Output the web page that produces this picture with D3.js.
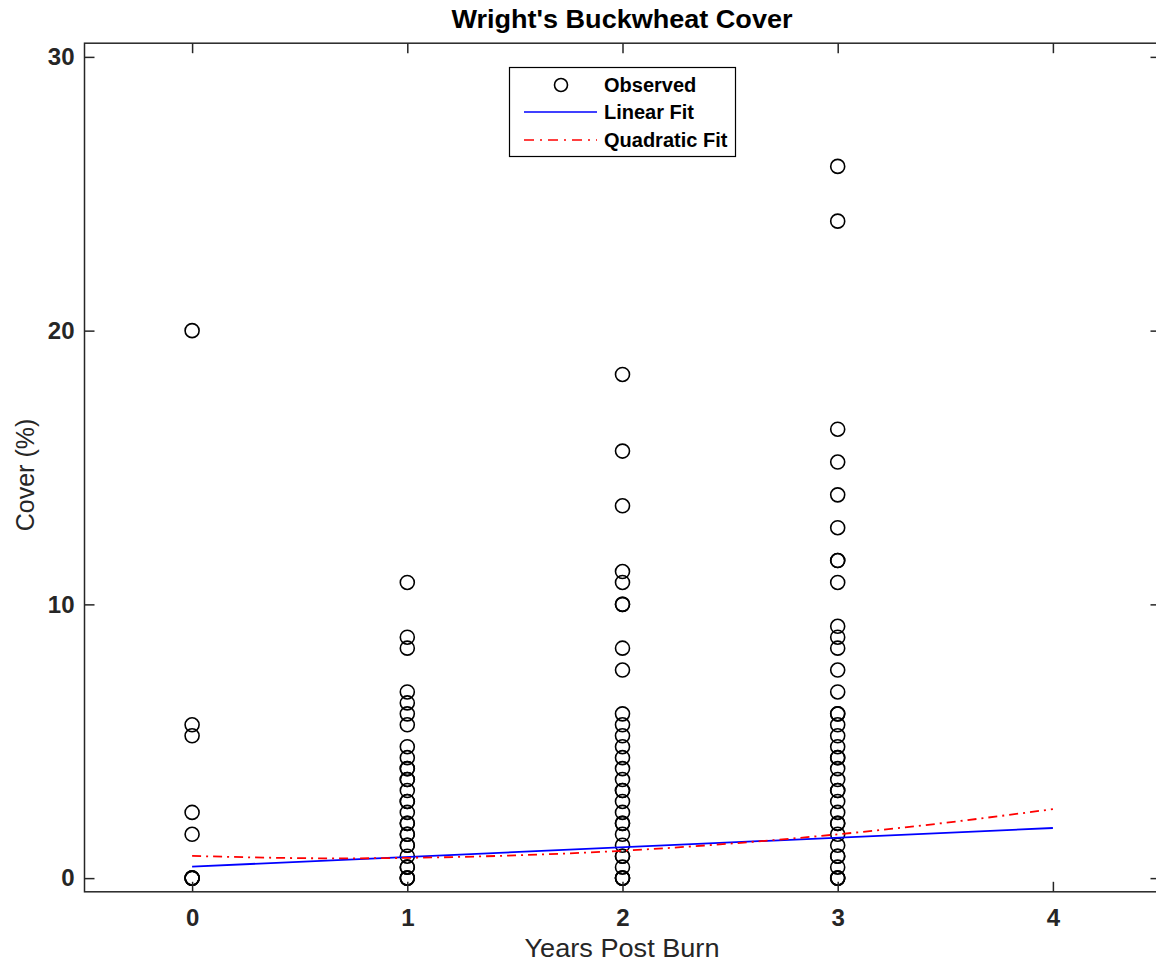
<!DOCTYPE html>
<html>
<head>
<meta charset="utf-8">
<script src="https://cdn.jsdelivr.net/npm/d3@7/dist/d3.min.js"></script>
<style>
  html, body { margin: 0; padding: 0; background: #fff; }
  svg { display: block; }
  text { font-family: "Liberation Sans", Arial, Helvetica, sans-serif; }
</style>
</head>
<body>
<svg id="chart" width="1156" height="968"></svg>
<script>
// ---- data ----
const xTicks = [0, 1, 2, 3, 4];
const yTicks = [0, 10, 20, 30];

const years0 = [0, 0, 0, 0, 0, 0, 0, 0, 0];
const cover0 = [20, 5.6, 5.2, 2.4, 1.6, 0, 0, 0, 0];

const years1 = [1,1,1,1,1,1,1,1,1,1,1,1,1,1,1,1,1,1,1,1,1,1,1,1,1,1,1,1,1];
const cover1 = [10.8, 8.8, 8.4, 6.8, 6.4, 6.0, 5.6, 4.8, 4.4, 4.0, 4.0, 3.6, 3.6, 3.2, 2.8, 2.8, 2.4, 2.0, 2.0, 1.6, 1.6, 1.2, 1.2, 0.8, 0.4, 0.4, 0, 0, 0];

const years2 = [2,2,2,2,2,2,2,2,2,2,2,2,2,2,2,2,2,2,2,2,2,2,2,2,2,2,2,2,2,2];
const cover2 = [18.4, 15.6, 13.6, 11.2, 10.8, 10.0, 10.0, 8.4, 7.6, 6.0, 5.6, 5.2, 4.8, 4.4, 4.0, 3.6, 3.2, 3.2, 2.8, 2.4, 2.0, 2.0, 1.6, 1.2, 0.8, 0.8, 0.4, 0, 0, 0];

const years3 = [3,3,3,3,3,3,3,3,3,3,3,3,3,3,3,3,3,3,3,3,3,3,3,3,3,3,3,3,3,3,3,3,3,3,3,3,3];
const cover3 = [26, 24, 16.4, 15.2, 14.0, 12.8, 11.6, 11.6, 10.8, 9.2, 8.8, 8.4, 7.6, 6.8, 6.0, 6.0, 5.6, 5.2, 4.8, 4.4, 4.4, 4.0, 3.6, 3.2, 3.2, 2.8, 2.4, 2.0, 2.0, 1.6, 1.2, 0.8, 0.8, 0.4, 0, 0, 0];

const linearX = [0, 4];
const linearY = [0.42, 1.83];

const quadX = [0, 0.5, 1, 1.5, 2, 2.5, 3, 3.5, 4];
const quadY = [0.81, 0.73, 0.74, 0.83, 1.00, 1.26, 1.60, 2.02, 2.52];

const legendLabels = ["Observed", "Linear Fit", "Quadratic Fit"];

// ---- drawing ----
const svg = d3.select("#chart");
const axisColor = "#262626";

const x = d3.scaleLinear().domain([-0.5, 4.5]).range([84.5, 1160.5]);
const y = d3.scaleLinear().domain([-0.5, 30.5]).range([891.8, 43.2]);

const L = x.range()[0], R = x.range()[1], T = y.range()[1], B = y.range()[0];

// points
const obs = [];
[[years0, cover0], [years1, cover1], [years2, cover2], [years3, cover3]].forEach(([xs, ys]) => {
  xs.forEach((v, i) => obs.push([v, ys[i]]));
});

svg.append("g").selectAll("circle").data(obs).enter().append("circle")
  .attr("cx", d => x(d[0]))
  .attr("cy", d => y(d[1]))
  .attr("r", 7)
  .attr("fill", "none")
  .attr("stroke", "#000")
  .attr("stroke-width", 1.6);

// fits
const line = d3.line().x(d => x(d[0])).y(d => y(d[1]));
svg.append("path")
  .datum(linearX.map((v, i) => [v, linearY[i]]))
  .attr("d", line)
  .attr("fill", "none").attr("stroke", "#0000ff").attr("stroke-width", 1.8);

svg.append("path")
  .datum(quadX.map((v, i) => [v, quadY[i]]))
  .attr("d", line.curve(d3.curveNatural))
  .attr("fill", "none").attr("stroke", "#ff0000").attr("stroke-width", 1.8)
  .attr("stroke-dasharray", "9,5,2,5");

// axes
const axisB = svg.append("g").attr("transform", `translate(0,${B})`)
  .call(d3.axisBottom(x).tickValues(xTicks).tickSize(-10).tickPadding(17).tickFormat(d3.format("d")));
const axisT = svg.append("g").attr("transform", `translate(0,${T})`)
  .call(d3.axisTop(x).tickValues(xTicks).tickSize(-10).tickFormat(""));
const axisLft = svg.append("g").attr("transform", `translate(${L},0)`)
  .call(d3.axisLeft(y).tickValues(yTicks).tickSize(-10).tickPadding(10).tickFormat(d3.format("d")));
const axisRt = svg.append("g").attr("transform", `translate(${R},0)`)
  .call(d3.axisRight(y).tickValues(yTicks).tickSize(-10).tickFormat(""));

[axisB, axisT, axisLft, axisRt].forEach(g => {
  g.select(".domain").remove();
  g.selectAll(".tick line").attr("stroke", axisColor).attr("stroke-width", 1.5);
  g.selectAll(".tick text").attr("fill", axisColor)
    .style("font-size", "24px").style("font-weight", "bold")
    .style("font-family", '"Liberation Sans", Arial, sans-serif');
});

svg.append("rect")
  .attr("x", L).attr("y", T).attr("width", R - L).attr("height", B - T)
  .attr("fill", "none").attr("stroke", axisColor).attr("stroke-width", 1.5);

// title
svg.append("text")
  .attr("x", 622).attr("y", 28)
  .attr("text-anchor", "middle")
  .attr("textLength", 341).attr("lengthAdjust", "spacingAndGlyphs")
  .style("font-size", "25px").style("font-weight", "bold").attr("fill", "#000")
  .text("Wright's Buckwheat Cover");

// axis labels
svg.append("text")
  .attr("x", 622).attr("y", 957)
  .attr("text-anchor", "middle")
  .attr("textLength", 195).attr("lengthAdjust", "spacingAndGlyphs")
  .style("font-size", "26px").attr("fill", axisColor)
  .text("Years Post Burn");

svg.append("text")
  .attr("transform", "translate(34,475) rotate(-90)")
  .attr("text-anchor", "middle")
  .style("font-size", "25px").attr("fill", axisColor)
  .text("Cover (%)");

// legend
const lg = svg.append("g");
lg.append("rect").attr("x", 509.5).attr("y", 67.5).attr("width", 226).attr("height", 89)
  .attr("fill", "#fff").attr("stroke", "#000").attr("stroke-width", 1.2);
const rows = [85, 112, 140];
lg.append("circle").attr("cx", 561).attr("cy", rows[0]).attr("r", 6.5)
  .attr("fill", "none").attr("stroke", "#000").attr("stroke-width", 1.6);
lg.append("line").attr("x1", 524).attr("x2", 597).attr("y1", rows[1]).attr("y2", rows[1])
  .attr("stroke", "#0000ff").attr("stroke-width", 1.5);
lg.append("line").attr("x1", 524).attr("x2", 597).attr("y1", rows[2]).attr("y2", rows[2])
  .attr("stroke", "#ff0000").attr("stroke-width", 1.5).attr("stroke-dasharray", "10,6,2,6");
legendLabels.forEach((t, i) => {
  lg.append("text").attr("x", 604).attr("y", rows[i]).attr("dy", "0.36em")
    .style("font-size", "20px").style("font-weight", "bold").attr("fill", "#000")
    .text(t);
});
</script>
</body>
</html>
